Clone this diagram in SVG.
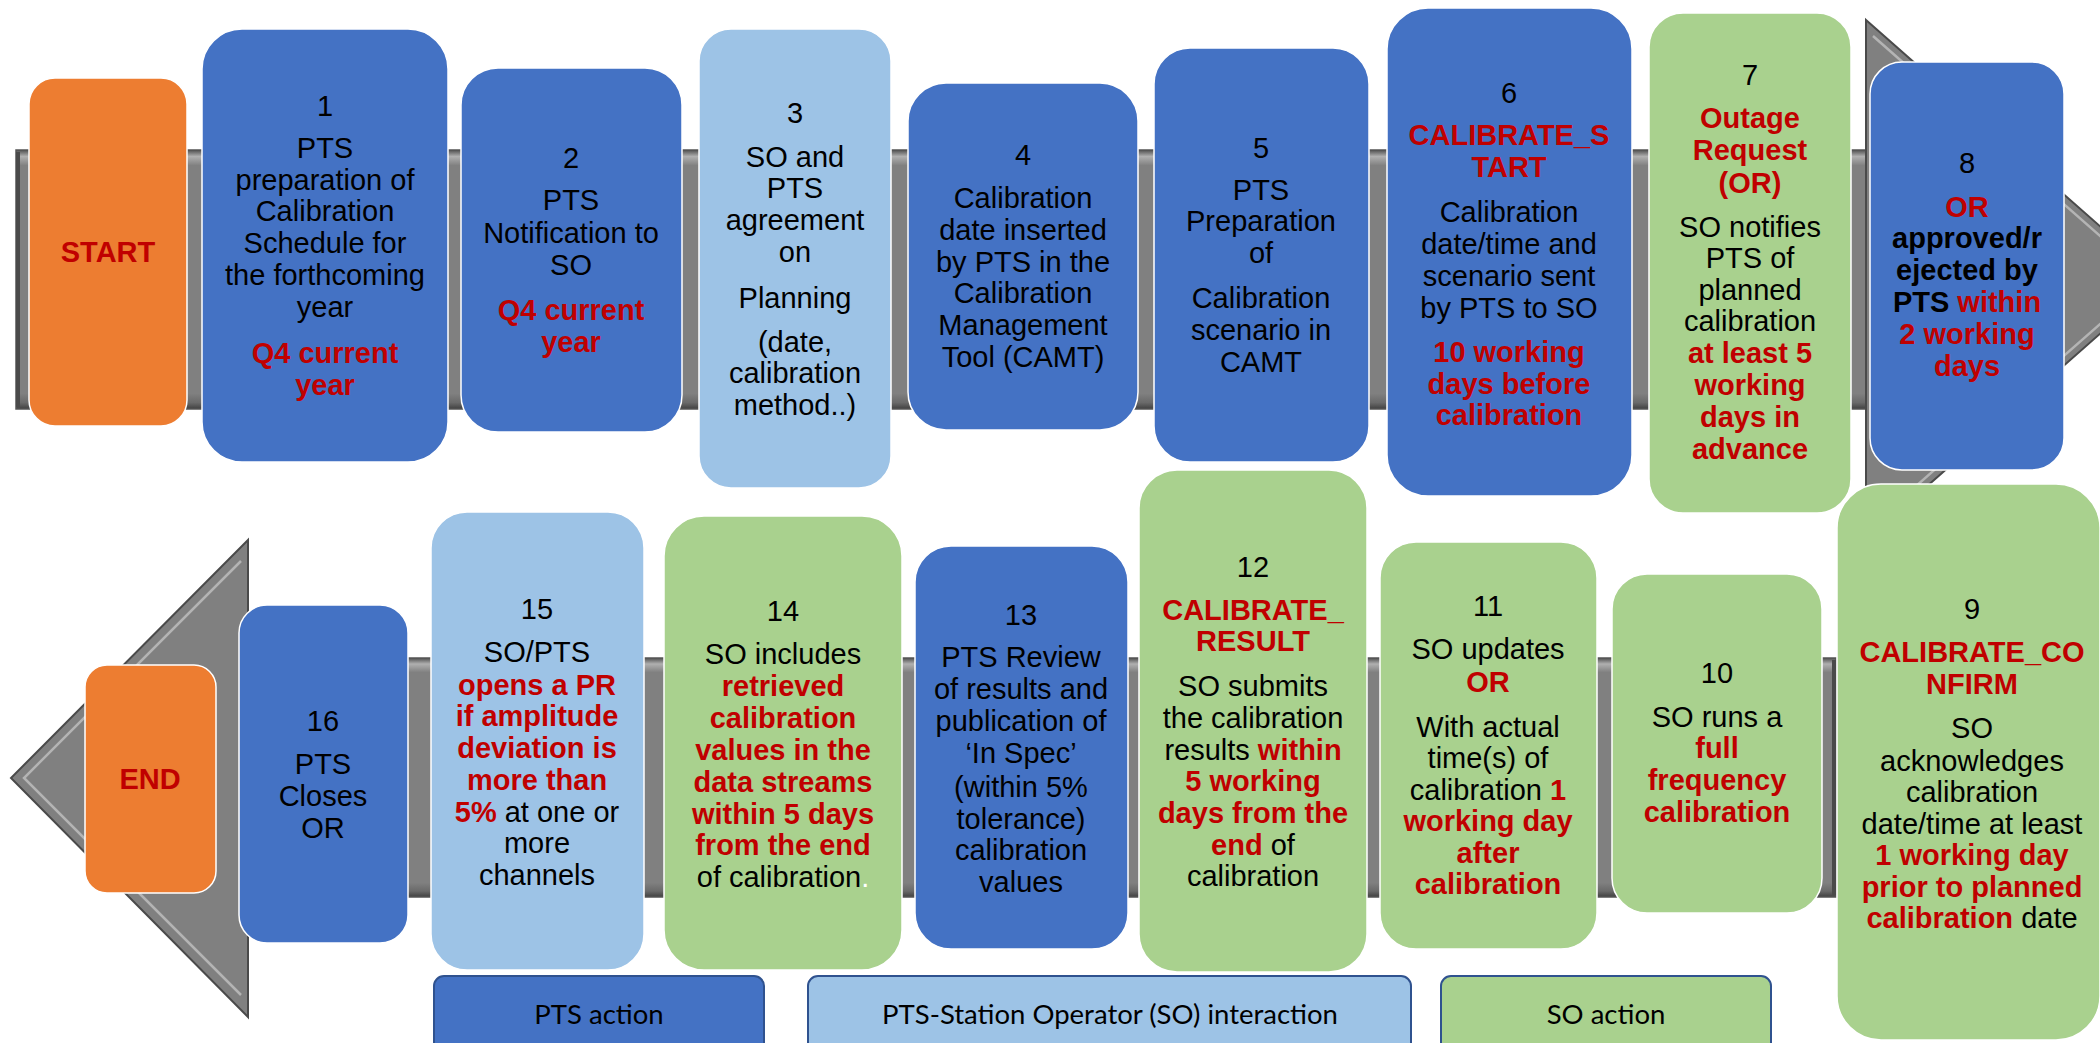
<svg xmlns="http://www.w3.org/2000/svg" width="2100" height="1043" viewBox="0 0 2100 1043">
<style>
.t{font-family:"Liberation Sans",Arial,sans-serif;font-size:29px;fill:#000;text-anchor:middle}
.r{fill:#C00000;font-weight:bold}
.k{fill:#000;font-weight:bold}
.n{fill:#000;font-weight:normal}
.w{fill:#fff;font-weight:normal}
.pts{fill:#4472C4;stroke:#fff;stroke-width:1.5}
.int{fill:#9DC3E6;stroke:#fff;stroke-width:1.5}
.so{fill:#A9D18E;stroke:#fff;stroke-width:1.5}
.se{fill:#ED7D31;stroke:#fff;stroke-width:1.5}
.lgb{stroke:#2F528F;stroke-width:2}
.lg{font-family:Lato,"Open Sans",sans-serif;font-size:27.5px;fill:#000;text-anchor:middle}
.band{fill:url(#bandG);stroke:#555;stroke-width:1.5}
.head{fill:#808080;stroke:#4a4a4a;stroke-width:2}
.hl{fill:none;stroke:#b4b4b4;stroke-width:2.5}
</style>
<defs>
<linearGradient id="bandG" x1="0" y1="0" x2="0" y2="1">
<stop offset="0" stop-color="#4f4f4f"/>
<stop offset="0.025" stop-color="#b0b0b0"/>
<stop offset="0.06" stop-color="#808080"/>
<stop offset="0.94" stop-color="#808080"/>
<stop offset="0.975" stop-color="#6a6a6a"/>
<stop offset="1" stop-color="#404040"/>
</linearGradient>
</defs>

<g id="connectors">
<rect class="band" x="16" y="150" width="1860" height="259"/>
<line x1="18" y1="152" x2="18" y2="407" stroke="#4a4a4a" stroke-width="4"/>
<polygon class="head" points="1866,20 2161,280 1866,540"/>
<polyline class="hl" points="1873,36 2150,280 1873,524"/>
<rect class="band" x="240" y="658" width="1596" height="239"/>
<line x1="1834" y1="660" x2="1834" y2="895" stroke="#4a4a4a" stroke-width="4"/>
<polygon class="head" points="248,540 11,778 248,1017"/>
<polyline class="hl" points="241,561 24,778 241,995"/>
</g>

<g id="start">
<rect class="se" x="29" y="78" width="158" height="348" rx="26"/>
<text class="t r" x="108" y="262" font-size="28">START</text>
</g>

<g id="step1">
<rect class="pts" x="202" y="29" width="246" height="433" rx="40"/>
<text class="t"><tspan x="325" y="116">1</tspan><tspan x="325" y="158">PTS</tspan><tspan x="325" y="190">preparation of</tspan><tspan x="325" y="221">Calibration</tspan><tspan x="325" y="253">Schedule for</tspan><tspan x="325" y="285">the forthcoming</tspan><tspan x="325" y="317">year</tspan><tspan class="r" x="325" y="363">Q4 current</tspan><tspan class="r" x="325" y="395">year</tspan></text>
</g>

<g id="step2">
<rect class="pts" x="461" y="68" width="221" height="364" rx="37"/>
<text class="t"><tspan x="571" y="168">2</tspan><tspan x="571" y="210">PTS</tspan><tspan x="571" y="243">Notification to</tspan><tspan x="571" y="275">SO</tspan><tspan class="r" x="571" y="320">Q4 current</tspan><tspan class="r" x="571" y="352">year</tspan></text>
</g>

<g id="step3">
<rect class="int" x="699" y="29" width="192" height="459" rx="32"/>
<text class="t"><tspan x="795" y="123">3</tspan><tspan x="795" y="167">SO and</tspan><tspan x="795" y="198">PTS</tspan><tspan x="795" y="230">agreement</tspan><tspan x="795" y="262">on</tspan><tspan x="795" y="308">Planning</tspan><tspan x="795" y="352">(date,</tspan><tspan x="795" y="383">calibration</tspan><tspan x="795" y="415">method..)</tspan></text>
</g>

<g id="step4">
<rect class="pts" x="908" y="83" width="230" height="347" rx="38"/>
<text class="t"><tspan x="1023" y="165">4</tspan><tspan x="1023" y="208">Calibration</tspan><tspan x="1023" y="240">date inserted</tspan><tspan x="1023" y="272">by PTS in the</tspan><tspan x="1023" y="303">Calibration</tspan><tspan x="1023" y="335">Management</tspan><tspan x="1023" y="367">Tool (CAMT)</tspan></text>
</g>

<g id="step5">
<rect class="pts" x="1154" y="48" width="215" height="414" rx="36"/>
<text class="t"><tspan x="1261" y="158">5</tspan><tspan x="1261" y="200">PTS</tspan><tspan x="1261" y="231">Preparation</tspan><tspan x="1261" y="263">of</tspan><tspan x="1261" y="308">Calibration</tspan><tspan x="1261" y="340">scenario in</tspan><tspan x="1261" y="372">CAMT</tspan></text>
</g>

<g id="step6">
<rect class="pts" x="1387" y="8" width="245" height="488" rx="41"/>
<text class="t"><tspan x="1509" y="103">6</tspan><tspan class="r" x="1509" y="145">CALIBRATE_S</tspan><tspan class="r" x="1509" y="177">TART</tspan><tspan x="1509" y="222">Calibration</tspan><tspan x="1509" y="254">date/time and</tspan><tspan x="1509" y="286">scenario sent</tspan><tspan x="1509" y="318">by PTS to SO</tspan><tspan class="r" x="1509" y="362">10 working</tspan><tspan class="r" x="1509" y="394">days before</tspan><tspan class="r" x="1509" y="425">calibration</tspan></text>
</g>

<g id="step7">
<rect class="so" x="1649" y="13" width="202" height="500" rx="34"/>
<text class="t"><tspan x="1750" y="85">7</tspan><tspan class="r" x="1750" y="128">Outage</tspan><tspan class="r" x="1750" y="160">Request</tspan><tspan class="r" x="1750" y="193">(OR)</tspan><tspan x="1750" y="237">SO notifies</tspan><tspan x="1750" y="268">PTS of</tspan><tspan x="1750" y="300">planned</tspan><tspan x="1750" y="331">calibration</tspan><tspan class="r" x="1750" y="363">at least 5</tspan><tspan class="r" x="1750" y="395">working</tspan><tspan class="r" x="1750" y="427">days in</tspan><tspan class="r" x="1750" y="459">advance</tspan></text>
</g>

<g id="step8">
<rect class="pts" x="1870" y="62" width="194" height="408" rx="32"/>
<text class="t"><tspan x="1967" y="173">8</tspan><tspan class="r" x="1967" y="217">OR</tspan><tspan class="k" x="1967" y="248">approved/r</tspan><tspan class="k" x="1967" y="280">ejected by</tspan><tspan class="k" x="1967" y="312">PTS<tspan class="r"> within</tspan></tspan><tspan class="r" x="1967" y="344">2 working</tspan><tspan class="r" x="1967" y="376">days</tspan></text>
</g>

<g id="end">
<rect class="se" x="85" y="665" width="131" height="228" rx="22"/>
<text class="t r" x="150" y="789" font-size="31">END</text>
</g>

<g id="step16">
<rect class="pts" x="239" y="605" width="169" height="338" rx="28"/>
<text class="t"><tspan x="323" y="731">16</tspan><tspan x="323" y="774">PTS</tspan><tspan x="323" y="806">Closes</tspan><tspan x="323" y="838">OR</tspan></text>
</g>

<g id="step15">
<rect class="int" x="431" y="512" width="213" height="458" rx="36"/>
<text class="t"><tspan x="537" y="619">15</tspan><tspan x="537" y="662">SO/PTS</tspan><tspan class="r" x="537" y="695">opens a PR</tspan><tspan class="r" x="537" y="726">if amplitude</tspan><tspan class="r" x="537" y="758">deviation is</tspan><tspan class="r" x="537" y="790">more than</tspan><tspan class="r" x="537" y="822">5%<tspan class="n"> at one or</tspan></tspan><tspan x="537" y="853">more</tspan><tspan x="537" y="885">channels</tspan></text>
</g>

<g id="step14">
<rect class="so" x="664" y="516" width="238" height="454" rx="40"/>
<text class="t"><tspan x="783" y="621">14</tspan><tspan x="783" y="664">SO includes</tspan><tspan class="r" x="783" y="696">retrieved</tspan><tspan class="r" x="783" y="728">calibration</tspan><tspan class="r" x="783" y="760">values in the</tspan><tspan class="r" x="783" y="792">data streams</tspan><tspan class="r" x="783" y="824">within 5 days</tspan><tspan class="r" x="783" y="855">from the end</tspan><tspan x="783" y="887">of calibration<tspan class="w">.</tspan></tspan></text>
</g>

<g id="step13">
<rect class="pts" x="915" y="546" width="213" height="403" rx="36"/>
<text class="t"><tspan x="1021" y="625">13</tspan><tspan x="1021" y="667">PTS Review</tspan><tspan x="1021" y="699">of results and</tspan><tspan x="1021" y="731">publication of</tspan><tspan x="1021" y="763">‘In Spec’</tspan><tspan x="1021" y="797">(within 5%</tspan><tspan x="1021" y="829">tolerance)</tspan><tspan x="1021" y="860">calibration</tspan><tspan x="1021" y="892">values</tspan></text>
</g>

<g id="step12">
<rect class="so" x="1139" y="470" width="228" height="502" rx="38"/>
<text class="t"><tspan x="1253" y="577">12</tspan><tspan class="r" x="1253" y="620">CALIBRATE_</tspan><tspan class="r" x="1253" y="651">RESULT</tspan><tspan x="1253" y="696">SO submits</tspan><tspan x="1253" y="728">the calibration</tspan><tspan x="1253" y="760">results <tspan class="r">within</tspan></tspan><tspan class="r" x="1253" y="791">5 working</tspan><tspan class="r" x="1253" y="823">days from the</tspan><tspan class="r" x="1253" y="855">end<tspan class="n"> of</tspan></tspan><tspan x="1253" y="886">calibration</tspan></text>
</g>

<g id="step11">
<rect class="so" x="1380" y="542" width="217" height="407" rx="36"/>
<text class="t"><tspan x="1488" y="616">11</tspan><tspan x="1488" y="659">SO updates</tspan><tspan class="r" x="1488" y="692">OR</tspan><tspan x="1488" y="737">With actual</tspan><tspan x="1488" y="768">time(s) of</tspan><tspan x="1488" y="800">calibration <tspan class="r">1</tspan></tspan><tspan class="r" x="1488" y="831">working day</tspan><tspan class="r" x="1488" y="863">after</tspan><tspan class="r" x="1488" y="894">calibration</tspan></text>
</g>

<g id="step10">
<rect class="so" x="1612" y="574" width="210" height="339" rx="35"/>
<text class="t"><tspan x="1717" y="683">10</tspan><tspan x="1717" y="727">SO runs a</tspan><tspan class="r" x="1717" y="758">full</tspan><tspan class="r" x="1717" y="790">frequency</tspan><tspan class="r" x="1717" y="822">calibration</tspan></text>
</g>

<g id="step9">
<rect class="so" x="1837" y="484" width="263" height="556" rx="44"/>
<text class="t"><tspan x="1972" y="619">9</tspan><tspan class="r" x="1972" y="662">CALIBRATE_CO</tspan><tspan class="r" x="1972" y="694">NFIRM</tspan><tspan x="1972" y="738">SO</tspan><tspan x="1972" y="771">acknowledges</tspan><tspan x="1972" y="802">calibration</tspan><tspan x="1972" y="834">date/time at least</tspan><tspan class="r" x="1972" y="865">1 working day</tspan><tspan class="r" x="1972" y="897">prior to planned</tspan><tspan class="r" x="1972" y="928">calibration<tspan class="n"> date</tspan></tspan></text>
</g>

<g id="legend-pts">
<rect class="lgb" x="434" y="976" width="330" height="76" rx="10" fill="#4472C4"/>
<text class="lg" x="599" y="1024">PTS action</text>
</g>
<g id="legend-interaction">
<rect class="lgb" x="808" y="976" width="603" height="76" rx="10" fill="#9DC3E6"/>
<text class="lg" x="1110" y="1024">PTS-Station Operator (SO) interaction</text>
</g>
<g id="legend-so">
<rect class="lgb" x="1441" y="976" width="330" height="76" rx="10" fill="#A9D18E"/>
<text class="lg" x="1606" y="1024">SO action</text>
</g>
</svg>
